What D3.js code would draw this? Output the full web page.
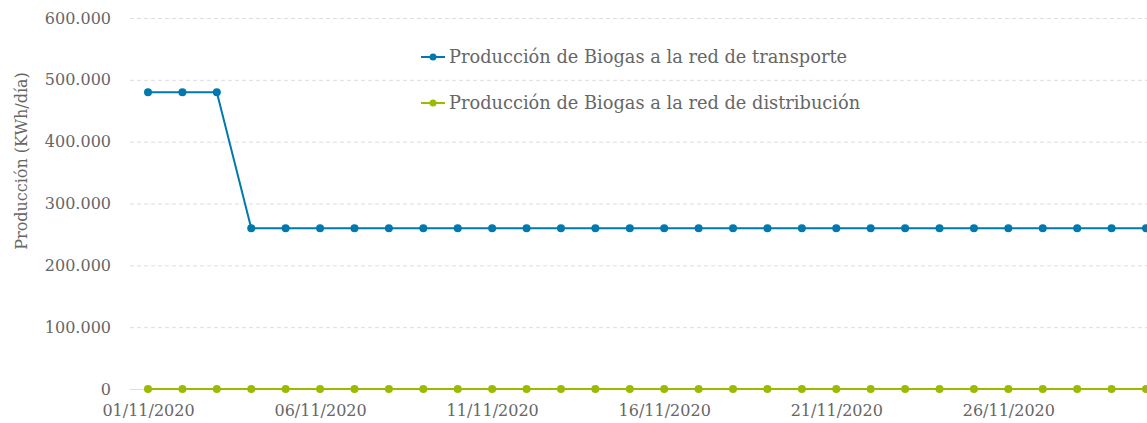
<!DOCTYPE html>
<html>
<head>
<meta charset="utf-8">
<script src="https://cdn.jsdelivr.net/npm/d3@7"></script>
<style>
  body { margin: 0; background: #fff; }
  svg text { font-family: "DejaVu Serif", serif; fill: #666; }
</style>
</head>
<body>
<div id="chart"></div>
<script>
// Data
var days = d3.range(1, 31).map(function (d) { return new Date(2020, 10, d); });
var transporte = [480000, 480000, 480000, 260000, 260000, 260000, 260000, 260000, 260000, 260000,
                  260000, 260000, 260000, 260000, 260000, 260000, 260000, 260000, 260000, 260000,
                  260000, 260000, 260000, 260000, 260000, 260000, 260000, 260000, 260000, 260000];
var distribucion = [0, 0, 0, 0, 0, 0, 0, 0, 0, 0, 0, 0, 0, 0, 0, 0, 0, 0, 0, 0,
                    0, 0, 0, 0, 0, 0, 0, 0, 0, 0];
var yTicks = [0, 100000, 200000, 300000, 400000, 500000, 600000];
var xTicks = [1, 6, 11, 16, 21, 26].map(function (d) { return new Date(2020, 10, d); });
var seriesNames = ["Producción de Biogas a la red de transporte", "Producción de Biogas a la red de distribución"];
var seriesColors = ["#0079ae", "#9cbb00"];

var width = 1147, height = 423;

var svg = d3.select("#chart")
    .append("svg")
    .attr("width", width)
    .attr("height", height);

// Scales
var x = d3.scaleTime().domain([days[0], days[days.length - 1]]).range([148, 1146]);
var y = d3.scaleLinear().domain([0, 600000]).range([389, 18]);

var fmt = function (v) { return v === 0 ? "0" : d3.format(",")(v).replace(/,/g, "."); };

// Y axis with gridlines
var yAxis = svg.append("g")
    .attr("transform", "translate(130,0)")
    .call(d3.axisLeft(y).tickValues(yTicks).tickFormat(fmt).tickSize(-(width - 130)).tickPadding(19));
yAxis.select(".domain").remove();
yAxis.selectAll(".tick line")
    .attr("stroke", "#ddd")
    .attr("stroke-dasharray", function (d) { return d === 0 ? null : "4,3"; });
yAxis.selectAll(".tick text").style("font-size", "16px");

// X axis
var xAxis = svg.append("g")
    .attr("transform", "translate(0,389)")
    .call(d3.axisBottom(x).tickValues(xTicks).tickFormat(d3.timeFormat("%d/%m/%Y")).tickSize(0).tickPadding(16));
xAxis.select(".domain").remove();
xAxis.selectAll(".tick text").style("font-size", "16px");

// Y axis title
svg.append("text")
    .attr("transform", "translate(27,161) rotate(-90)")
    .style("text-anchor", "middle")
    .style("font-size", "16px")
    .text("Producción (KWh/día)");

// Lines and points
var line = d3.line()
    .x(function (d, i) { return x(days[i]); })
    .y(function (d) { return y(d); });

[distribucion, transporte].forEach(function (data, k) {
    var color = seriesColors[1 - k];
    svg.append("path")
        .datum(data)
        .attr("fill", "none")
        .attr("stroke", color)
        .attr("stroke-width", 2)
        .attr("d", line);
    svg.append("g")
        .selectAll("circle")
        .data(data)
        .enter()
        .append("circle")
        .attr("cx", function (d, i) { return x(days[i]); })
        .attr("cy", function (d) { return y(d); })
        .attr("r", 4)
        .attr("fill", color);
});

// Legend
var legend = svg.append("g").attr("transform", "translate(421,57)");
seriesNames.forEach(function (name, i) {
    var g = legend.append("g").attr("transform", "translate(0," + (i * 46) + ")");
    g.append("line").attr("x1", 0).attr("x2", 24).attr("stroke", seriesColors[i]).attr("stroke-width", 2);
    g.append("circle").attr("cx", 12).attr("r", 3.5).attr("fill", seriesColors[i]);
    g.append("text").attr("x", 28).attr("dy", "0.35em").style("font-size", "17.8px").text(name);
});
</script>
</body>
</html>
